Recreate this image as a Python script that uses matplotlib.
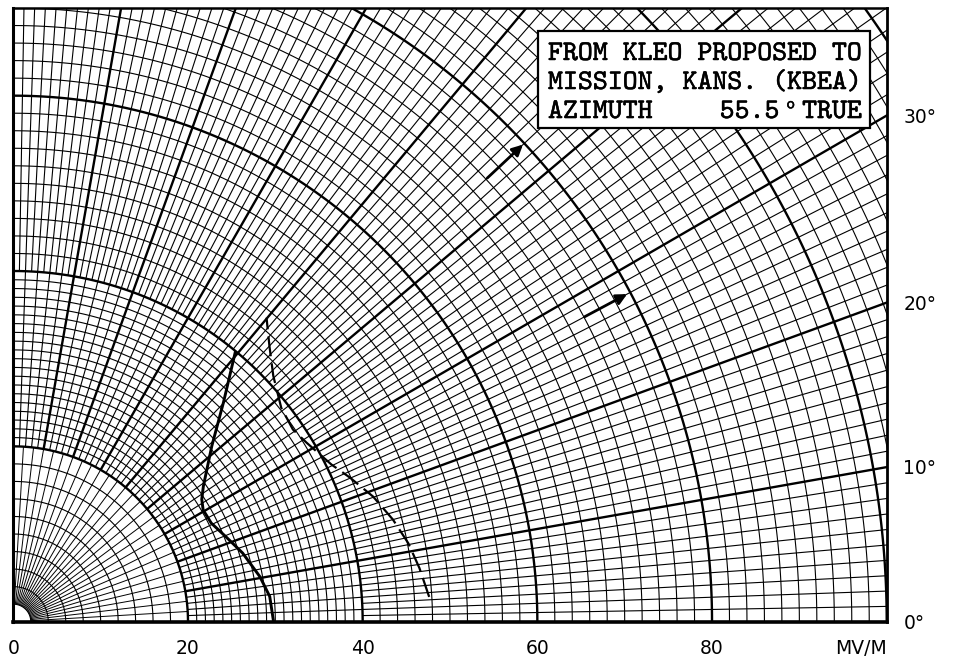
import numpy as np
import matplotlib
matplotlib.use("Agg")
import matplotlib.pyplot as plt
import matplotlib.patheffects as pe
from matplotlib.collections import LineCollection
from matplotlib.patches import Rectangle

# ---------------- data ----------------
# solid curve: elevation angle (deg) vs field (mV/m)
solid_angle = [0.0, 5.6, 10.3, 16.6, 21.7, 26.4, 30.4, 32.9, 35.4, 41.4, 46.1, 50.5]
solid_field = [29.8, 29.5, 28.7, 27.4, 26.2, 25.3, 25.2, 25.7, 26.7, 30.3, 34.7, 40.0]

# dashed curve
dashed_angle = [3.4, 7.5, 11.2, 15.0, 19.1, 23.1, 26.2, 31.3, 34.4, 38.5, 43.3, 47.0, 50.1]
dashed_field = [47.7, 46.9, 46.1, 45.0, 43.6, 41.9, 40.6, 39.3, 38.8, 39.2, 40.9, 43.0, 45.2]

# arrows (radial, outward)
arrow_angle = [43.0, 28.0]
arrow_r_start = [74.2, 74.1]
arrow_r_end = [79.8, 79.6]

# axis labels
x_tick_values = [0, 20, 40, 60, 80]
x_tick_labels = ["0", "20", "40", "60", "80"]
x_unit_label = "MV/M"
angle_tick_values = [0, 10, 20, 30]
angle_tick_labels = ["0°", "10°", "20°", "30°"]

box_lines = ["FROM KLEO PROPOSED TO", "MISSION, KANS. (KBEA)"]
box_azimuth_word = "AZIMUTH"
box_azimuth_value = "55.5"
box_azimuth_ref = "TRUE"

# chart-paper grid: (r_start, r_end, arc step, spoke step in degrees)
grid_zones = [(2, 20, 2, 10.0 / 3.0), (20, 40, 1, 2.0), (40, 126, 2, 1.0)]
bold_arc_step = 20
bold_spoke_step = 10
bold_spoke_start = 20
x_max, y_max = 100, 70

# ---------------- figure ----------------
fig = plt.figure(figsize=(9.57, 6.62), dpi=100)
ax = fig.add_axes([13.3 / 957, (662 - 621.7) / 662, 873.4 / 957, 613.7 / 662])
ax.set_xlim(0, x_max)
ax.set_ylim(0, y_max)
ax.set_xticks([])
ax.set_yticks([])
for side, lw in (("bottom", 2.6), ("left", 2.2), ("right", 2.0), ("top", 1.8)):
    ax.spines[side].set_linewidth(lw)
    ax.spines[side].set_color("black")
    ax.spines[side].set_zorder(4)

THIN = 0.8
BOLD = 1.7
th = np.radians(np.linspace(0, 90, 600))

thin_segs, bold_segs, inner_segs = [], [], []


def is_mult(v, step):
    q = v / step
    return abs(q - round(q)) < 1e-6


# arcs
done_r = set()
for r0, r1, astep, _ in grid_zones:
    for r in np.arange(r0, r1 + 1e-9, astep):
        rr = round(float(r), 6)
        if rr in done_r:
            continue
        done_r.add(rr)
        seg = np.column_stack([rr * np.cos(th), rr * np.sin(th)])
        if rr > 0 and is_mult(rr, bold_arc_step):
            bold_segs.append(seg)
        else:
            thin_segs.append(seg)

# spokes
for zi, (r0, r1, _, sstep) in enumerate(grid_zones):
    n = int(round(90 / sstep))
    for k in range(n + 1):
        a = k * sstep
        if r0 >= bold_spoke_start and is_mult(a, bold_spoke_step):
            continue
        t = np.radians(a)
        seg = np.array([[r0 * np.cos(t), r0 * np.sin(t)],
                        [r1 * np.cos(t), r1 * np.sin(t)]])
        (inner_segs if zi == 0 else thin_segs).append(seg)
for a in range(bold_spoke_step, 90, bold_spoke_step):
    t = np.radians(a)
    r0, r1 = bold_spoke_start, grid_zones[-1][1]
    bold_segs.append(np.array([[r0 * np.cos(t), r0 * np.sin(t)],
                               [r1 * np.cos(t), r1 * np.sin(t)]]))

ax.add_collection(LineCollection(inner_segs, colors="black", linewidths=0.7, zorder=1))
ax.add_collection(LineCollection(thin_segs, colors="black", linewidths=THIN, zorder=1))
ax.add_collection(LineCollection(bold_segs, colors="black", linewidths=BOLD, zorder=2))

# curves
sa = np.radians(solid_angle)
ax.plot(np.array(solid_field) * np.cos(sa), np.array(solid_field) * np.sin(sa),
        color="black", lw=2.1, zorder=3, solid_capstyle="butt", solid_joinstyle="round")
da = np.radians(dashed_angle)
ax.plot(np.array(dashed_field) * np.cos(da), np.array(dashed_field) * np.sin(da),
        color="black", lw=1.6, zorder=3, linestyle=(0, (9.0, 3.2)), dash_capstyle="butt")

# arrows
for a, r0, r1 in zip(arrow_angle, arrow_r_start, arrow_r_end):
    t = np.radians(a)
    ax.annotate("", xy=(r1 * np.cos(t), r1 * np.sin(t)),
                xytext=(r0 * np.cos(t), r0 * np.sin(t)),
                arrowprops=dict(arrowstyle="-|>", color="black", lw=2.0,
                                mutation_scale=16, shrinkA=0, shrinkB=0),
                zorder=3)

# bottom labels
lab_font = dict(family="DejaVu Sans", fontsize=13.5, color="black")
for v, s in zip(x_tick_values, x_tick_labels):
    ax.text(v, -3.63, s, ha="center", va="baseline", clip_on=False, **lab_font)
ax.text(x_max, -3.63, x_unit_label, ha="right", va="baseline", clip_on=False, **lab_font)

# right angle labels
for a, s in zip(angle_tick_values, angle_tick_labels):
    yv = x_max * np.tan(np.radians(a))
    ax.text(101.9, yv - 0.8, s, ha="left", va="baseline", clip_on=False, **lab_font)

# text box
box = Rectangle((60.08, 56.31), 38.0, 11.07, facecolor="white", edgecolor="black",
                lw=1.6, zorder=5)
ax.add_patch(box)
thick = [pe.withStroke(linewidth=0.35, foreground="black")]
mono = dict(family=["cmtt10", "Liberation Mono"], fontsize=20.5, color="black",
            zorder=6, path_effects=thick)
ax.text(61.22, 64.07, box_lines[0], ha="left", va="baseline", **mono)
ax.text(61.22, 60.76, box_lines[1], ha="left", va="baseline", **mono)
ax.text(61.22, 57.45, box_azimuth_word, ha="left", va="baseline", **mono)
ax.text(84.3, 57.45, box_azimuth_value, ha="center", va="baseline", **mono)
ax.text(89.0, 58.55, "o", ha="center", va="baseline",
        family=["cmtt10", "Liberation Mono"], fontsize=12, color="black", zorder=6,
        path_effects=thick)
ax.text(97.17, 57.45, box_azimuth_ref, ha="right", va="baseline", **mono)

fig.savefig("out.png", dpi=100, facecolor="white")
